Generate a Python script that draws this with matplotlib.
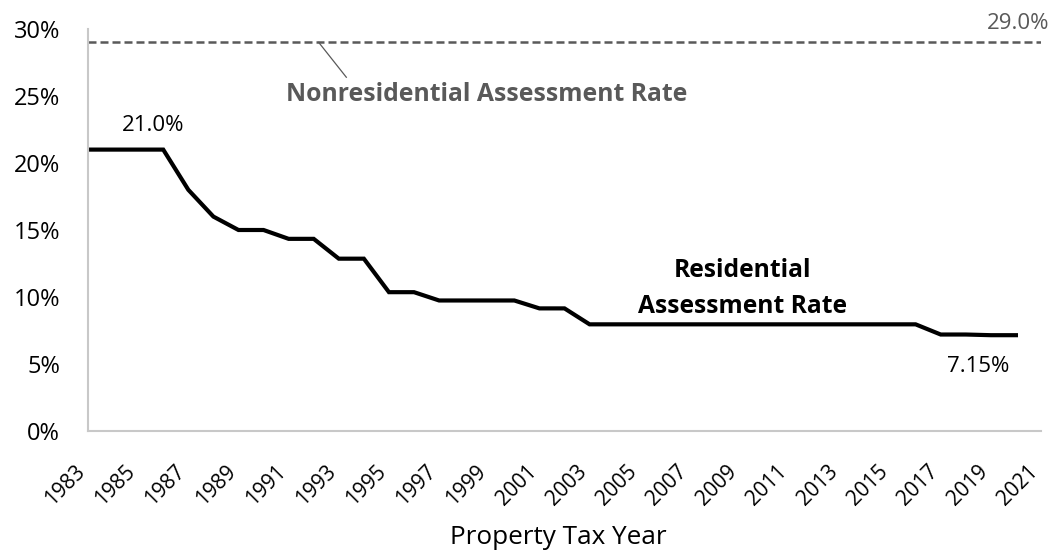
import numpy as np
import matplotlib
matplotlib.use("Agg")
import matplotlib.pyplot as plt
import matplotlib.transforms as mtransforms
from matplotlib.ticker import FuncFormatter

plt.rcParams["font.family"] = ["Open Sans", "DejaVu Sans"]

# residential assessment rate, % (1983-2020)
res_years = list(range(1983, 2021))
res_rate = [21.0, 21.0, 21.0, 21.0, 18.0, 16.0, 15.0, 15.0, 14.34, 14.34,
            12.86, 12.86, 10.36, 10.36, 9.74, 9.74, 9.74, 9.74, 9.15, 9.15,
            7.96, 7.96, 7.96, 7.96, 7.96, 7.96, 7.96, 7.96, 7.96, 7.96,
            7.96, 7.96, 7.96, 7.96, 7.20, 7.20, 7.15, 7.15]
# nonresidential assessment rate, % (1983-2021)
nonres_years = list(range(1983, 2022))
nonres_rate = [29.0] * len(nonres_years)

tick_years = list(range(1983, 2022, 2))
GRAY = "#595959"

fig = plt.figure(figsize=(10.52, 5.52), dpi=100)
ax = fig.add_axes([88 / 1052, 1 - 431 / 552, (1041 - 88) / 1052, (431 - 29) / 552])

ax.plot(nonres_years, nonres_rate, color=GRAY, lw=1.8, ls=(0, (3.2, 1.6)))
ax.plot(res_years, res_rate, color="black", lw=3.0, solid_joinstyle="miter")

ax.set_xlim(1983, 2021)
ax.set_ylim(0, 30)
ax.set_yticks([0, 5, 10, 15, 20, 25, 30])
ax.yaxis.set_major_formatter(FuncFormatter(lambda v, p: f"{v:.0f}%"))
ax.set_xticks(tick_years)
ax.set_xticklabels([str(y) for y in tick_years], rotation=45, ha="right", va="center",
                   rotation_mode="anchor", fontsize=15)
ax.tick_params(axis="y", length=0, pad=20, labelsize=17)
ax.tick_params(axis="x", length=0, pad=27)

# nudge the rotated year labels left so their ends sit at the tick
shift = mtransforms.ScaledTranslation(-6 / 100, 0, fig.dpi_scale_trans)
for lab in ax.xaxis.get_majorticklabels():
    lab.set_transform(lab.get_transform() + shift)

for s in ["top", "right"]:
    ax.spines[s].set_visible(False)
for s in ["left", "bottom"]:
    ax.spines[s].set_color("#c8c8c8")
    ax.spines[s].set_linewidth(1.5)

ax.set_xlabel("Property Tax Year", fontsize=18.8, va="center")
ax.xaxis.set_label_coords(0.493, -(537 - 431) / 402)

# annotations
ax.text(1985.6, 22.8, "21.0%", ha="center", va="center", fontsize=16)
ax.text(2020.1, 30.4, "29.0%", ha="center", va="center", fontsize=16, color=GRAY)
ax.text(2018.5, 4.8, "7.15%", ha="center", va="center", fontsize=16)
ax.text(1998.9, 25.1, "Nonresidential Assessment Rate", ha="center", va="center",
        fontsize=17.8, fontweight="bold", color=GRAY)
ax.plot([1992.2, 1993.3], [29.0, 26.4], color=GRAY, lw=0.9)
ax.text(2009.1, 10.65, "Residential\nAssessment Rate", ha="center", va="center",
        fontsize=17.7, fontweight="bold", color="black", linespacing=1.55)

fig.savefig("out.png", dpi=100)
